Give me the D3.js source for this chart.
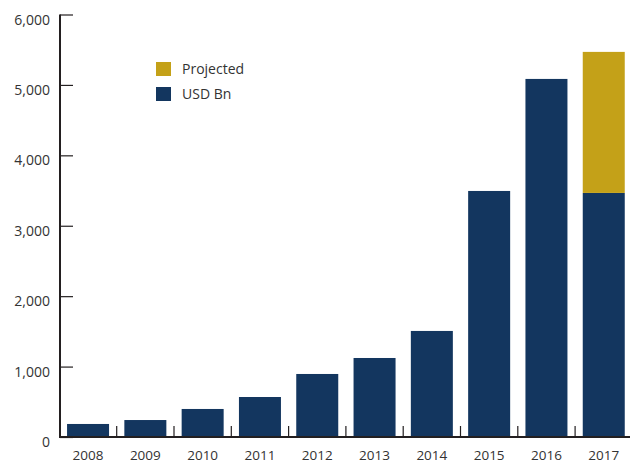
<!DOCTYPE html>
<html><head><meta charset="utf-8">
<script src="https://cdn.jsdelivr.net/npm/d3@7"></script>
<style>body{margin:0;background:#fff}svg text{font-family:"Open Sans",sans-serif;fill:#333}</style>
</head><body><svg id="c" width="630" height="465"></svg>
<script>
const years = ["2008","2009","2010","2011","2012","2013","2014","2015","2016","2017"];
const usd = [185, 241, 398, 568, 895, 1122, 1506, 3494, 5085, 3466];
const projected = [0, 0, 0, 0, 0, 0, 0, 0, 0, 2003];
const yTicks = [0, 1000, 2000, 3000, 4000, 5000, 6000];
const legendLabels = ["Projected", "USD Bn"];
const colors = {usd: "#13365f", proj: "#c4a118", axis: "#231f20"};

const svg = d3.select("#c");
const xb = d3.scaleBand().domain(years).range([59.4, 632.4]);
const x = d3.scaleBand().domain(years).range([59.4, 632.4]).paddingInner(0.267).paddingOuter(0.1335);
const y = d3.scaleLinear().domain([0, 6000]).range([437, 14.5]);

// bars
svg.append("g").selectAll("rect").data(years).join("rect")
  .attr("x", d => x(d)).attr("width", x.bandwidth())
  .attr("y", (d,i) => y(usd[i])).attr("height", (d,i) => y(0) - y(usd[i]))
  .attr("fill", colors.usd);
svg.append("g").selectAll("rect").data(years.filter((d,i)=>projected[i]>0)).join("rect")
  .attr("x", d => x(d)).attr("width", x.bandwidth())
  .attr("y", d => { const i = years.indexOf(d); return y(usd[i] + projected[i]); })
  .attr("height", d => { const i = years.indexOf(d); return y(usd[i]) - y(usd[i] + projected[i]); })
  .attr("fill", colors.proj);

// y axis
const yAxis = d3.axisRight(y).tickValues(yTicks).tickSize(13).tickFormat("");
const gy = svg.append("g").attr("transform", "translate(60,0)").call(yAxis);
gy.select(".domain").remove();
gy.selectAll(".tick line").attr("stroke", colors.axis).attr("stroke-width", 1.2);
svg.append("line").attr("x1", 60).attr("x2", 60).attr("y1", y(6000)).attr("y2", 438)
  .attr("stroke", colors.axis).attr("stroke-width", 2);
svg.append("g").selectAll("text").data(yTicks).join("text")
  .attr("x", 50).attr("y", d => y(d) + 10).attr("text-anchor", "end")
  .attr("font-size", 14).text(d => d3.format(",")(d));

// x axis
svg.append("line").attr("x1", 59).attr("x2", 630).attr("y1", 437).attr("y2", 437)
  .attr("stroke", colors.axis).attr("stroke-width", 2);
const bounds = years.slice(1).map(d => xb(d));
svg.append("g").selectAll("line").data(bounds).join("line")
  .attr("x1", d => d).attr("x2", d => d).attr("y1", 426).attr("y2", 437)
  .attr("stroke", colors.axis).attr("stroke-width", 1.2);
svg.append("g").selectAll("text").data(years).join("text")
  .attr("x", d => x(d) + x.bandwidth()/2).attr("y", 460).attr("text-anchor", "middle")
  .attr("font-size", 13.5).text(d => d);

// legend
const lg = svg.append("g");
[colors.proj, colors.usd].forEach((c, i) => {
  lg.append("rect").attr("x", 156).attr("y", 62 + i*25).attr("width", 15).attr("height", 14).attr("fill", c);
  lg.append("text").attr("x", 182).attr("y", 74 + i*25).attr("font-size", 14).text(legendLabels[i]);
});
</script></body></html>
